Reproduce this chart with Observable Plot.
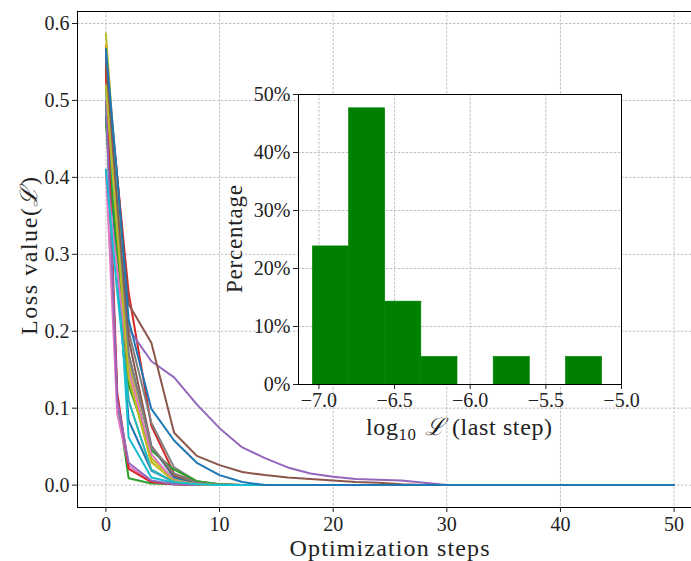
<!DOCTYPE html>
<html><head><meta charset="utf-8">
<script src="https://cdn.jsdelivr.net/npm/d3@7"></script>
<script src="https://cdn.jsdelivr.net/npm/@observablehq/plot@0.6"></script>
<style>
html,body{margin:0;padding:0;background:#fff;overflow:hidden;}
#wrap{position:relative;width:691px;height:561px;overflow:hidden;background:#fff;}
#wrap svg{position:absolute;left:0;top:0;max-width:none !important;}
</style></head><body><div id="wrap"></div>
<script>
// ---- main chart data: loss per optimization step for 21 runs ----
const steps = [0, 1, 2, 4, 6, 8, 10, 12, 14, 16, 18, 20, 22, 24, 26, 28, 30, 50];
const run00 = [0.478, 0.28, 0.084, 0.019, 0.004, 0.001, 0, 0, 0, 0, 0, 0, 0, 0, 0, 0, 0, 0];
const run01 = [0.571, 0.36, 0.140, 0.030, 0.006, 0.002, 0, 0, 0, 0, 0, 0, 0, 0, 0, 0, 0, 0];
const run02 = [0.500, 0.11, 0.009, 0.002, 0.001, 0, 0, 0, 0, 0, 0, 0, 0, 0, 0, 0, 0, 0];
const run03 = [0.548, 0.40, 0.250, 0.077, 0.015, 0.004, 0.001, 0, 0, 0, 0, 0, 0, 0, 0, 0, 0, 0];
const run04 = [0.530, 0.37, 0.203, 0.161, 0.140, 0.105, 0.074, 0.049, 0.035, 0.023, 0.015, 0.011, 0.008, 0.007, 0.006, 0.003, 0, 0];
const run05 = [0.555, 0.40, 0.235, 0.185, 0.068, 0.038, 0.026, 0.017, 0.013, 0.010, 0.008, 0.006, 0.004, 0.003, 0.001, 0, 0, 0];
const run06 = [0.410, 0.092, 0.025, 0.004, 0.001, 0, 0, 0, 0, 0, 0, 0, 0, 0, 0, 0, 0, 0];
const run07 = [0.540, 0.37, 0.200, 0.081, 0.023, 0.005, 0.001, 0, 0, 0, 0, 0, 0, 0, 0, 0, 0, 0];
const run08 = [0.587, 0.38, 0.160, 0.035, 0.008, 0.002, 0, 0, 0, 0, 0, 0, 0, 0, 0, 0, 0, 0];
const run09 = [0.515, 0.30, 0.062, 0.010, 0.003, 0.001, 0, 0, 0, 0, 0, 0, 0, 0, 0, 0, 0, 0];
const run10 = [0.560, 0.36, 0.170, 0.050, 0.010, 0.003, 0, 0, 0, 0, 0, 0, 0, 0, 0, 0, 0, 0];
const run11 = [0.530, 0.33, 0.110, 0.020, 0.004, 0.001, 0, 0, 0, 0, 0, 0, 0, 0, 0, 0, 0, 0];
const run12 = [0.470, 0.30, 0.130, 0.045, 0.020, 0.005, 0.001, 0, 0, 0, 0, 0, 0, 0, 0, 0, 0, 0];
const run13 = [0.540, 0.12, 0.021, 0.004, 0.001, 0, 0, 0, 0, 0, 0, 0, 0, 0, 0, 0, 0, 0];
const run14 = [0.500, 0.11, 0.029, 0.006, 0.001, 0, 0, 0, 0, 0, 0, 0, 0, 0, 0, 0, 0, 0];
const run15 = [0.545, 0.36, 0.190, 0.051, 0.012, 0.003, 0, 0, 0, 0, 0, 0, 0, 0, 0, 0, 0, 0];
const run16 = [0.405, 0.28, 0.150, 0.040, 0.006, 0.001, 0, 0, 0, 0, 0, 0, 0, 0, 0, 0, 0, 0];
const run17 = [0.520, 0.34, 0.170, 0.050, 0.015, 0.003, 0, 0, 0, 0, 0, 0, 0, 0, 0, 0, 0, 0];
const run18 = [0.519, 0.33, 0.140, 0.030, 0.005, 0.001, 0, 0, 0, 0, 0, 0, 0, 0, 0, 0, 0, 0];
const run19 = [0.410, 0.25, 0.110, 0.020, 0.004, 0.001, 0, 0, 0, 0, 0, 0, 0, 0, 0, 0, 0, 0];
const run20 = [0.567, 0.40, 0.215, 0.099, 0.058, 0.029, 0.013, 0.004, 0, 0, 0, 0, 0, 0, 0, 0, 0, 0];
const runs = [run00, run01, run02, run03, run04, run05, run06, run07, run08, run09, run10,
              run11, run12, run13, run14, run15, run16, run17, run18, run19, run20];
const palette = ["#1f77b4", "#ff7f0e", "#2ca02c", "#d62728", "#9467bd",
                 "#8c564b", "#e377c2", "#7f7f7f", "#bcbd22", "#17becf"];
const xTicks = [0, 10, 20, 30, 40, 50];
const yTicks = [0, 0.1, 0.2, 0.3, 0.4, 0.5, 0.6];

// ---- inset histogram: log10 loss at last step ----
const binEdges = [-7.040, -6.801, -6.562, -6.323, -6.084, -5.845, -5.606, -5.367, -5.128];
const binPct = [23.81, 47.62, 14.29, 4.76, 0, 4.76, 0, 4.76];
const insetXTicks = [-7.0, -6.5, -6.0, -5.5, -5.0];
const insetYTicks = [0, 10, 20, 30, 40, 50];

const rows = runs.flatMap((r, i) => steps.map((s, j) => ({step: s, loss: r[j], run: i, color: palette[i % 10]})));
const bins = binPct.map((p, i) => ({x1: binEdges[i], x2: binEdges[i + 1], pct: p}));

const FONT = "'Liberation Serif', 'DejaVu Serif', serif";
const gridStyle = {stroke: "#b0b0b0", strokeOpacity: 1, strokeWidth: 0.8, strokeDasharray: "2.5,1.5"};
const fmtMinus = d => (d < 0 ? "\u2212" : "") + Math.abs(d).toFixed(1);
const svgStyle = {fontFamily: FONT, fontSize: "20px", color: "#222", background: "transparent", overflow: "visible", maxWidth: "none"};

const main = Plot.plot({
  width: 720, height: 561,
  marginLeft: 77, marginRight: 18, marginTop: 11, marginBottom: 54,
  style: svgStyle,
  x: {domain: [-2.5, 52.5]},
  y: {domain: [-0.0291, 0.6156]},
  color: {type: "identity"},
  marks: [
    Plot.gridX(xTicks, gridStyle),
    Plot.gridY(yTicks, gridStyle),
    Plot.line(rows, {x: "step", y: "loss", z: "run", stroke: "color", strokeWidth: 2, strokeLinejoin: "round"}),
    Plot.axisX(xTicks, {tickSize: 5, tickPadding: 4, label: null, tickFormat: d => String(d)}),
    Plot.axisY(yTicks, {tickSize: 5, tickPadding: 3, label: null, tickFormat: d => d.toFixed(1)}),
    Plot.frame({stroke: "#000", strokeWidth: 1})
  ]
});

const inset = Plot.plot({
  width: 691, height: 561,
  marginLeft: 298, marginRight: 70, marginTop: 94, marginBottom: 177,
  style: svgStyle,
  x: {domain: [-7.135, -5.0]},
  y: {domain: [0, 50]},
  marks: [
    Plot.frame({fill: "white", stroke: null}),
    Plot.gridX(insetXTicks, gridStyle),
    Plot.gridY(insetYTicks, gridStyle),
    Plot.rectY(bins, {x1: "x1", x2: "x2", y1: 0, y2: "pct", fill: "#008000", stroke: "#008000", strokeWidth: 0.6}),
    Plot.axisX(insetXTicks, {tickSize: 5, tickPadding: 3, label: null, tickFormat: fmtMinus}),
    Plot.axisY(insetYTicks, {tickSize: 5, tickPadding: 3, label: null, tickFormat: d => d + "%"}),
    Plot.frame({stroke: "#000", strokeWidth: 1})
  ]
});

const wrap = document.getElementById("wrap");
wrap.appendChild(main);
wrap.appendChild(inset);
[main, inset].forEach(s => { s.style.maxWidth = "none"; s.style.width = s.getAttribute("width") + "px"; s.style.height = s.getAttribute("height") + "px"; });

// tick labels: serif 20px, forced inline
d3.selectAll("#wrap svg text").style("font-family", FONT).style("font-size", "20px").style("font-variant", "normal");

// axis titles (text), stretched to the reference's measured widths
function title(svg, x, y, rotate, parts, size, len) {
  const t = d3.select(svg).append("text")
    .attr("transform", `translate(${x},${y})` + (rotate ? ` rotate(${rotate})` : ""))
    .attr("text-anchor", "middle")
    .attr("font-size", size)
    .style("font-family", FONT)
    .style("font-size", size + "px")
    .attr("textLength", len)
    .attr("lengthAdjust", "spacing")
    .attr("fill", "#222");
  parts.forEach(p => {
    const s = t.append("tspan").text(p.t);
    if (p.italic) s.style("font-style", "italic").style("font-family", "'DejaVu Serif', serif");
    if (p.sub) s.style("font-size", (size * 0.7) + "px").attr("dy", 5);
    if (p.after) s.attr("dy", -5);
  });
}
title(main, 389.5, 556, 0, [{t: "Optimization steps"}], 24, 200);
title(main, 37, 256, -90, [{t: "Loss value("}, {t: "\u2112", italic: true}, {t: ")"}], 24, 158);
title(inset, 242, 239, -90, [{t: "Percentage"}], 23, 108);
title(inset, 459, 435, 0, [{t: "log"}, {t: "10", sub: true}, {t: " \u2112", italic: true, after: true}, {t: " (last step)"}], 24, 186);
</script>
</body></html>
